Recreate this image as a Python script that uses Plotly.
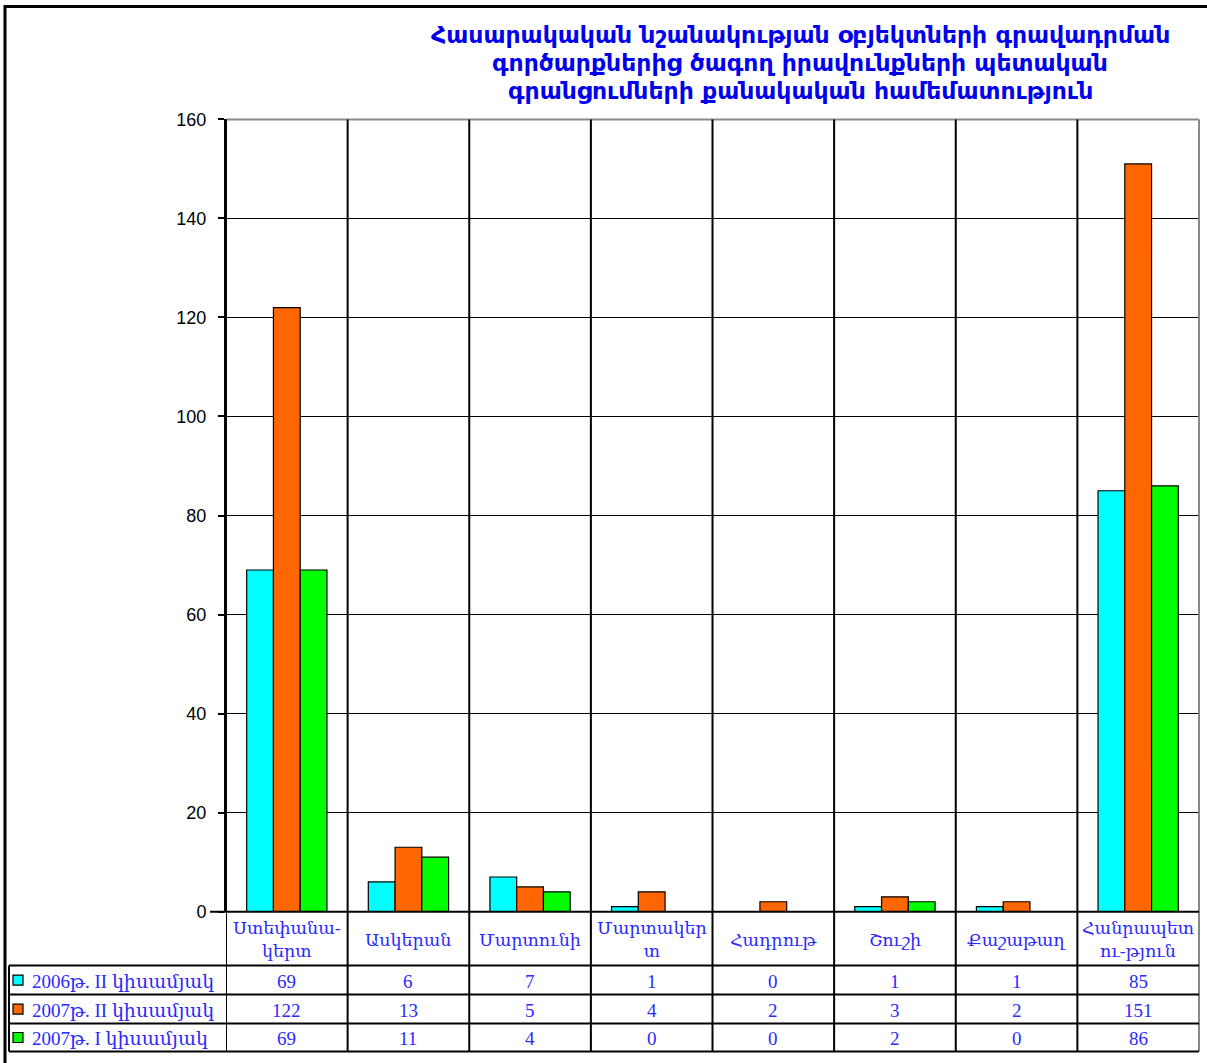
import plotly.graph_objects as go

# Chart values
categories = ["Ստեփանակերտ", "Ասկերան", "Մարտունի", "Մարտակերտ",
              "Հադրութ", "Շուշի", "Քաշաթաղ", "Հանրապետություն"]
category_labels = ["Ստեփանա-<br>կերտ", "Ասկերան", "Մարտունի", "Մարտակեր<br>տ",
                   "Հադրութ", "Շուշի", "Քաշաթաղ", "Հանրապետ<br>ու-թյուն"]
series_names = ["2006թ. II կիսամյակ", "2007թ. II կիսամյակ", "2007թ. I կիսամյակ"]
h2_2006 = [69, 6, 7, 1, 0, 1, 1, 85]
h2_2007 = [122, 13, 5, 4, 2, 3, 2, 151]
h1_2007 = [69, 11, 4, 0, 0, 2, 0, 86]
series_values = [h2_2006, h2_2007, h1_2007]
series_colors = ["#00FFFF", "#FF6600", "#00FF00"]
y_ticks = [0, 20, 40, 60, 80, 100, 120, 140, 160]

title_lines = ["Հասարակական նշանակության օբյեկտների գրավադրման",
               "գործարքներից ծագող իրավունքների պետական",
               "գրանցումների քանակական համեմատություն"]

W, H = 1207, 1063
# vertical extent of the paper as it is laid out on the page
PAPER_TOP, PAPER_H = 9.5, 1044


def px(x):
    return x / W


def py(y):
    return 1 - (y - PAPER_TOP) / PAPER_H


PLOT_L, PLOT_R, PLOT_T, PLOT_B = 226, 1199, 119, 912
ROW_Y = [966, 995, 1024, 1052]
TABLE_L = 9

TEXT_BLUE = "#2a2aff"
SERIF = "Liberation Serif, DejaVu Serif, serif"

fig = go.Figure()
x_idx = list(range(len(categories)))
for name, vals, col in zip(series_names, series_values, series_colors):
    fig.add_trace(go.Bar(
        x=x_idx, y=vals, name=name,
        marker=dict(color=col, line=dict(color="black", width=1.2)),
        hoverinfo="y",
    ))

shapes = []
# outer frame
shapes.append(dict(type="rect", xref="paper", yref="paper",
                   x0=px(5), x1=px(1215), y0=py(1075), y1=py(6),
                   line=dict(color="black", width=3)))
# plot border: grey top and right
shapes.append(dict(type="line", xref="paper", yref="paper",
                   x0=px(PLOT_L), x1=px(PLOT_R), y0=py(PLOT_T), y1=py(PLOT_T),
                   line=dict(color="#888888", width=2)))
shapes.append(dict(type="line", xref="paper", yref="paper",
                   x0=px(PLOT_R), x1=px(PLOT_R), y0=py(PLOT_T), y1=py(ROW_Y[-1]),
                   line=dict(color="#888888", width=2)))
# category separators running through the plot and the data table
for i in range(len(categories)):
    xb = i - 0.5
    shapes.append(dict(type="line", xref="x", yref="paper",
                       x0=xb, x1=xb, y0=py(ROW_Y[-1]), y1=py(PLOT_T),
                       line=dict(color="black", width=2)))
# table horizontal rules
shapes.append(dict(type="line", xref="paper", yref="paper",
                   x0=px(PLOT_L - 16), x1=px(PLOT_R), y0=py(PLOT_B), y1=py(PLOT_B),
                   line=dict(color="black", width=2)))
for yy in ROW_Y:
    shapes.append(dict(type="line", xref="paper", yref="paper",
                       x0=px(TABLE_L), x1=px(PLOT_R), y0=py(yy), y1=py(yy),
                       line=dict(color="black", width=2)))
# table left edge
shapes.append(dict(type="line", xref="paper", yref="paper",
                   x0=px(TABLE_L), x1=px(TABLE_L), y0=py(ROW_Y[-1]), y1=py(ROW_Y[0]),
                   line=dict(color="black", width=2)))
# legend keys
for r, col in enumerate(series_colors):
    yc = (ROW_Y[r] + ROW_Y[r + 1]) / 2
    shapes.append(dict(type="rect", xref="paper", yref="paper",
                       x0=px(13), x1=px(23), y0=py(yc + 5), y1=py(yc - 5),
                       fillcolor=col, line=dict(color="black", width=1.2)))

annotations = []
# title
for k, line in enumerate(title_lines):
    annotations.append(dict(
        text="<b>" + line + "</b>", xref="paper", yref="paper",
        x=px(800), y=py(35 + 28 * k), xanchor="center", yanchor="middle",
        showarrow=False, font=dict(family="DejaVu Sans, sans-serif", size=23.5, color="#0000ee")))
# category labels row
for i, lab in enumerate(category_labels):
    annotations.append(dict(
        text=lab, xref="x", yref="paper", x=i, y=py((PLOT_B + ROW_Y[0]) / 2 + 1),
        xanchor="center", yanchor="middle", showarrow=False,
        font=dict(family=SERIF, size=17.5, color=TEXT_BLUE)))
# value rows with legend captions
for r, (name, vals) in enumerate(zip(series_names, series_values)):
    yc = (ROW_Y[r] + ROW_Y[r + 1]) / 2
    annotations.append(dict(
        text=name, xref="paper", yref="paper", x=px(30), y=py(yc + 1),
        xanchor="left", yanchor="middle", showarrow=False,
        font=dict(family=SERIF, size=19, color=TEXT_BLUE)))
    for i, v in enumerate(vals):
        annotations.append(dict(
            text=str(v), xref="x", yref="paper", x=i, y=py(yc + 1),
            xanchor="center", yanchor="middle", showarrow=False,
            font=dict(family=SERIF, size=19, color=TEXT_BLUE)))

fig.update_layout(
    width=W, height=H,
    margin=dict(l=0, r=0, t=0, b=0),
    paper_bgcolor="white", plot_bgcolor="white",
    barmode="group", bargap=0.34, bargroupgap=0,
    showlegend=False,
    shapes=shapes, annotations=annotations,
    xaxis=dict(domain=[px(PLOT_L), px(PLOT_R)], range=[-0.5, len(categories) - 0.5],
               showticklabels=False, showgrid=False, zeroline=False, showline=False,
               ticks=""),
    yaxis=dict(domain=[py(PLOT_B), py(PLOT_T)], range=[0, 160],
               tickvals=y_ticks, ticks="outside", ticklen=6, tickwidth=1.5,
               tickcolor="black", ticklabelstandoff=8,
               showgrid=True, gridcolor="black", gridwidth=1,
               zeroline=False, showline=True, linecolor="black", linewidth=2,
               tickfont=dict(family="Liberation Sans, Arial, sans-serif", size=18, color="black")),
)

fig.write_html("out.html")
